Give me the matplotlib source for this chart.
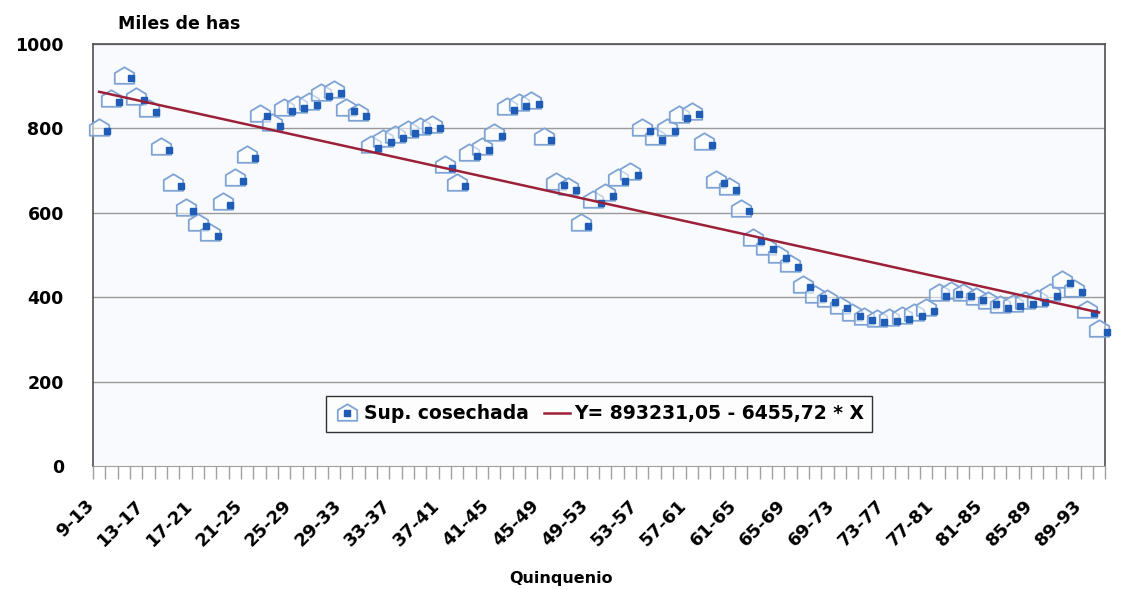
import matplotlib
matplotlib.use("Agg")
import matplotlib.pyplot as plt
import numpy as np
from matplotlib.path import Path
from matplotlib.transforms import offset_copy, ScaledTranslation
from matplotlib.ticker import FixedLocator, NullFormatter

plt.rcParams['font.family'] = ['DejaVu Sans']

#-------------------------------------------------------------------------------------
# datos (miles de has por quinquenio)

anio_inicio = list(range(9, 91))
quinquenios = [f'{a}-{a + 4}' for a in anio_inicio]

sup_cosechada = [800, 870, 925, 875, 845, 755, 670, 612, 576, 552,
                 626, 682, 737, 835, 812, 848, 855, 862, 884, 890,
                 848, 836, 760, 775, 785, 796, 803, 808, 713, 670,
                 742, 756, 789, 850, 860, 865, 780, 673, 660, 576,
                 630, 647, 682, 697, 800, 780, 800, 832, 840, 768,
                 678, 661, 610, 540, 520, 500, 478, 430, 405, 395,
                 380, 362, 352, 348, 350, 355, 362, 375, 410, 415,
                 410, 400, 390, 382, 385, 390, 395, 410, 440, 420,
                 370, 325]

# recta de tendencia (hectareas), como figura en la leyenda
a_tend = 893231.05
b_tend = -6455.72
etiqueta_tend = 'Y= 893231,05 - 6455,72 * X'

y_ticks = [0, 200, 400, 600, 800, 1000]

#-------------------------------------------------------------------------------------

n = len(sup_cosechada)
x = np.arange(n)
X = x + 1
tendencia = (a_tend + b_tend * X) / 1000.

# marcador tipo "buzon"
casa = Path([(-1, -0.75), (1, -0.75), (1, 0.35), (0, 0.95), (-1, 0.35), (-1, -0.75)],
            [Path.MOVETO, Path.LINETO, Path.LINETO, Path.LINETO, Path.LINETO, Path.CLOSEPOLY])

fig = plt.figure(figsize=(11.31, 5.89), dpi=100)
ax = fig.add_axes([0.0822, 0.2088, 0.8950, 0.7165])
ax.set_facecolor('#f8fafd')

for yv in y_ticks[1:]:
    ax.axhline(yv, color='#9a9a9a', lw=1.0, zorder=1)

linea_casa, = ax.plot(x, sup_cosechada, ls='none', marker=casa, markersize=14,
                      markerfacecolor=(1, 1, 1, 0.55), markeredgecolor='#7ea3d4',
                      markeredgewidth=1.3, zorder=3, clip_on=False)
punto = offset_copy(ax.transData, fig=fig, x=5.5, y=-2.0, units='points')
linea_punto, = ax.plot(x, sup_cosechada, ls='none', marker='s', markersize=4.5,
                       color='#1f5cb5', transform=punto, zorder=4, clip_on=False)

linea_tend, = ax.plot(x, tendencia, color='#9b2038', lw=1.8, zorder=5)

ax.set_xlim(-0.5, n - 0.5)
ax.set_ylim(0, 1000)
ax.set_yticks(y_ticks)
ax.set_yticklabels([str(v) for v in y_ticks], fontsize=12.5, fontweight='bold')
ax.tick_params(axis='y', length=0, pad=21)

pos = list(range(0, n, 4))
ax.set_xticks(pos)
ax.set_xticklabels([quinquenios[i] for i in pos], rotation=45, ha='right',
                   rotation_mode='anchor', fontsize=13, fontweight='bold')
ax.xaxis.set_minor_locator(FixedLocator(np.arange(-0.5, n, 1.0)))
ax.xaxis.set_minor_formatter(NullFormatter())
ax.tick_params(axis='x', which='major', length=0, pad=22)
ax.tick_params(axis='x', which='minor', length=9, color='#a0a0a0', width=1.0)

# las etiquetas del eje quedan algo a la izquierda de cada categoria
desplaz = ScaledTranslation(-10 / 72, 0, fig.dpi_scale_trans)
for lab in ax.get_xticklabels():
    lab.set_transform(lab.get_transform() + desplaz)

for lado in ['left', 'top', 'right']:
    ax.spines[lado].set_color('#505050')
    ax.spines[lado].set_linewidth(1.2)
ax.spines['bottom'].set_color('#a0a0a0')

fig.text(0.104, 0.960, 'Miles de has', fontsize=12.5, fontweight='bold', ha='left', va='center')
fig.text(0.496, 0.018, 'Quinquenio', fontsize=11.5, fontweight='bold', ha='center', va='center')

leg = ax.legend([(linea_casa, linea_punto), linea_tend], ['Sup. cosechada', etiqueta_tend],
                loc='center', bbox_to_anchor=(0.5, 0.124), ncol=2, frameon=True,
                fancybox=False, edgecolor='black', fontsize=13.5,
                handlelength=1.4, columnspacing=0.8, handletextpad=0.2, borderpad=0.45)
leg.get_frame().set_linewidth(1.0)
for t in leg.get_texts():
    t.set_fontweight('bold')

plt.savefig('out.png', dpi=100)
